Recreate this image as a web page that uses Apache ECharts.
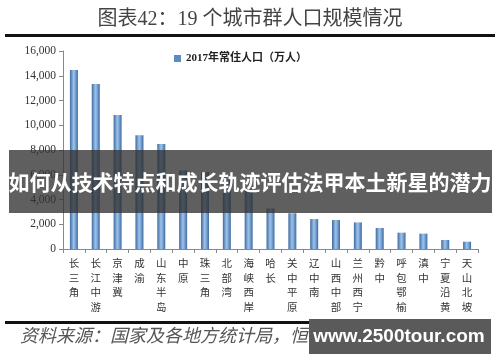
<!DOCTYPE html>
<html><head><meta charset="utf-8">
<script src="https://cdn.jsdelivr.net/npm/echarts@6/dist/echarts.min.js"></script>
<style>html,body{margin:0;padding:0;background:#fff}#c{width:500px;height:362px}</style>
</head><body><div id="c"></div>
<script>
const categories = ['长三角','长江中游','京津冀','成渝','山东半岛','中原','珠三角','北部湾','海峡西岸','哈长','关中平原','辽中南','山西中部','兰州西宁','黔中','呼包鄂榆','滇中','宁夏沿黄','天山北坡'];
const population2017 = [14460,13330,10830,9200,8480,6350,6220,5560,4800,3280,2890,2420,2340,2150,1700,1320,1240,730,590];
const yTicks = [0,2000,4000,6000,8000,10000,12000,14000,16000];
const seriesName = '2017年常住人口（万人）';
const titleText = '图表42：19 个城市群人口规模情况';
const sourceText = '资料来源：国家及各地方统计局，恒大研究院';
const bannerText = '如何从技术特点和成长轨迹评估法甲本土新星的潜力';
const watermarkText = 'www.2500tour.com';

const serif = '"Liberation Serif","Noto Sans CJK SC",serif';
const chart = echarts.init(document.getElementById('c'));
const barColor = new echarts.graphic.LinearGradient(0,0,1,0,[
  {offset:0,color:'#3d6a9e'},{offset:0.45,color:'#9cc0ea'},{offset:0.6,color:'#8ab2e0'},{offset:1,color:'#3d6a9e'}]);
chart.setOption({
  animation:false,
  backgroundColor:'#fff',
  grid:{left:63,right:22,top:51,bottom:113},
  legend:{show:true,left:169,top:48,itemWidth:7,itemHeight:7,itemGap:3,
    icon:'rect',
    textStyle:{fontFamily:serif,fontSize:11,fontWeight:'bold',color:'#222'},
    data:[{name:seriesName,itemStyle:{color:'#5b8ac4'}}]},
  xAxis:{type:'category',data:categories,
    axisLine:{lineStyle:{color:'#888'}},
    axisTick:{show:true,length:4,lineStyle:{color:'#888'}},
    axisLabel:{interval:0,margin:8,fontFamily:serif,fontSize:10.5,color:'#333',lineHeight:14.5,
      formatter:v=>v.split('').join('\n')}},
  yAxis:{type:'value',min:0,max:16000,interval:2000,
    axisLine:{show:true,lineStyle:{color:'#888'}},
    axisTick:{show:true,length:4,lineStyle:{color:'#888'}},
    splitLine:{show:false},
    axisLabel:{margin:7,fontFamily:serif,fontSize:11.5,color:'#333',
      formatter:v=>yTicks.includes(v)?v.toLocaleString('en-US'):''}},
  series:[{type:'bar',name:seriesName,data:population2017,barWidth:8,
    itemStyle:{color:barColor}}],
  graphic:[
    {type:'text',left:'center',top:10,z:100,style:{text:titleText,font:'20px '+serif,fill:'#444'}},
    {type:'rect',z:100,shape:{x:5,y:34,width:490,height:3},style:{fill:'#111'}},
    {type:'rect',z:100,shape:{x:5,y:321,width:486,height:3},style:{fill:'#111'}},
    {type:'text',z:100,left:20,top:328,style:{text:sourceText,font:'italic 18px '+serif,fill:'#555'}},
    {type:'rect',z:101,shape:{x:309,y:319,width:182,height:35},style:{fill:'#5a5a5a'}},
    {type:'text',z:102,x:399,y:337,style:{text:watermarkText,font:'bold 19px "Liberation Sans",sans-serif',fill:'#fff',align:'center',verticalAlign:'middle'}},
    {type:'rect',z:101,shape:{x:9,y:150,width:483,height:63},style:{fill:'rgba(50,50,50,0.78)'}},
    {type:'text',z:102,x:250,y:182,style:{text:bannerText,font:'bold 21px "Noto Sans CJK SC",sans-serif',fill:'#fff',align:'center',verticalAlign:'middle'}}
  ]
});
</script></body></html>
